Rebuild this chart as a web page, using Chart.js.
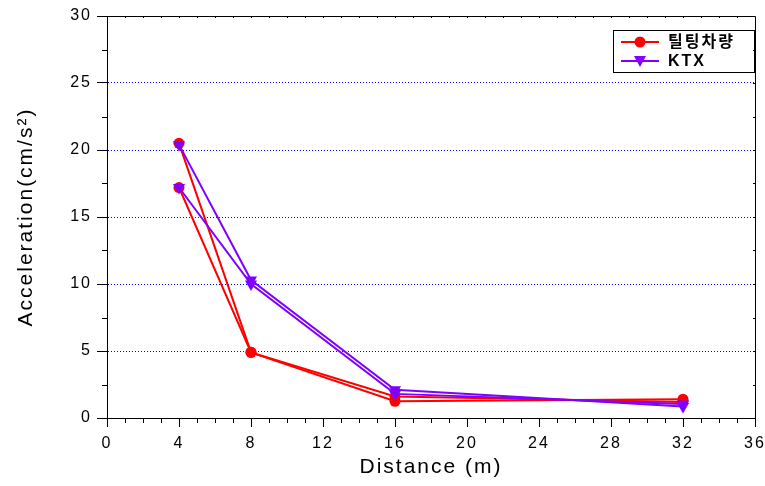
<!DOCTYPE html>
<html>
<head>
    <meta charset="UTF-8">
    <title>Acceleration vs Distance</title>
    <script src="https://cdn.jsdelivr.net/npm/chart.js"></script>
    <style>
        body { margin: 0; background: #fff; }
        canvas { display: block; }
    </style>
</head>
<body>
    <canvas id="accel_chart" width="765" height="486"></canvas>
    <script>
        // 데이터
        var distance = [4, 8, 16, 32];
        var tiltRun1 = [20.5, 4.9, 1.25, 1.4];
        var tiltRun2 = [17.2, 4.9, 1.6, 1.2];
        var ktxRun1 = [20.4, 10.3, 2.1, 0.85];
        var ktxRun2 = [17.2, 10.0, 1.8, 1.05];
        var seriesNames = ['틸팅차량', 'KTX'];
        var xTicks = [0, 4, 8, 12, 16, 20, 24, 28, 32, 36];
        var yTicks = [0, 5, 10, 15, 20, 25, 30];

        var RED = '#ff0000';
        var PURPLE = '#8000ff';
        var FONT = "'Liberation Sans', Arial, 'Noto Sans CJK KR', sans-serif";
        var SPACING = '2px';

        function toPoints(xs, ys) {
            return xs.map(function (x, i) { return { x: x, y: ys[i] }; });
        }

        function lineSet(label, values, color, shape, order) {
            return {
                label: label,
                data: toPoints(distance, values),
                showLine: true,
                borderColor: color,
                backgroundColor: color,
                borderWidth: 2,
                pointStyle: shape,
                pointRadius: shape === 'circle' ? 5.5 : 7,
                pointRotation: shape === 'circle' ? 0 : 180,
                pointBorderWidth: 0,
                order: order
            };
        }

        // 글자 간격 + 보조 눈금 + 테두리 + 범례
        var framePlugin = {
            id: 'frame',
            beforeLayout: function (chart) { chart.ctx.letterSpacing = SPACING; },
            beforeDraw: function (chart) {
                chart.ctx.letterSpacing = SPACING;
                var ctx = chart.ctx;
                ctx.save();
                ctx.fillStyle = '#fff';
                ctx.fillRect(0, 0, chart.width, chart.height);
                ctx.restore();
            },
            afterDraw: function (chart) {
                var ctx = chart.ctx;
                var a = chart.chartArea;
                var xs = chart.scales.x, ys = chart.scales.y;
                ctx.save();
                ctx.strokeStyle = '#000';
                ctx.lineWidth = 1;
                ctx.beginPath();
                // top and right frame
                ctx.moveTo(a.left, a.top + 0.5);
                ctx.lineTo(a.right + 0.5, a.top + 0.5);
                ctx.lineTo(a.right + 0.5, a.bottom);
                // minor ticks on x (every 1) and top inward ticks
                for (var v = 1; v < 36; v++) {
                    var px = Math.round(xs.getPixelForValue(v)) + 0.5;
                    if (v % 4 !== 0) {
                        ctx.moveTo(px, a.bottom);
                        ctx.lineTo(px, a.bottom + 5);
                    }
                    ctx.moveTo(px, a.top);
                    ctx.lineTo(px, a.top + 2);
                }
                // minor ticks on y (every 2.5) and right inward ticks
                for (var w = 2.5; w < 30; w += 2.5) {
                    var py = Math.round(ys.getPixelForValue(w)) + 0.5;
                    if (w % 5 !== 0) {
                        ctx.moveTo(a.left - 5, py);
                        ctx.lineTo(a.left, py);
                    }
                    ctx.moveTo(a.right - 2, py);
                    ctx.lineTo(a.right, py);
                }
                ctx.stroke();

                // 범례
                var bx = a.right - 142, by = a.top + 14, bw = 141, bh = 42;
                ctx.strokeRect(bx + 0.5, by + 0.5, bw, bh);
                var rows = [
                    { name: seriesNames[0], color: RED, shape: 'circle' },
                    { name: seriesNames[1], color: PURPLE, shape: 'triangle' }
                ];
                ctx.font = 'bold 16px ' + FONT;
                ctx.letterSpacing = SPACING;
                ctx.textBaseline = 'middle';
                rows.forEach(function (r, i) {
                    var cy = by + 12 + i * 19;
                    ctx.strokeStyle = r.color;
                    ctx.lineWidth = 2;
                    ctx.beginPath();
                    ctx.moveTo(bx + 8, cy);
                    ctx.lineTo(bx + 46, cy);
                    ctx.stroke();
                    ctx.fillStyle = r.color;
                    ctx.beginPath();
                    if (r.shape === 'circle') {
                        ctx.arc(bx + 27, cy, 5.5, 0, Math.PI * 2);
                    } else {
                        ctx.moveTo(bx + 21, cy - 5);
                        ctx.lineTo(bx + 33, cy - 5);
                        ctx.lineTo(bx + 27, cy + 6);
                        ctx.closePath();
                    }
                    ctx.fill();
                    ctx.fillStyle = '#000';
                    ctx.fillText(r.name, bx + 55, cy + 1);
                });
                ctx.restore();
            }
        };

        var ctx = document.getElementById('accel_chart').getContext('2d');
        var chart = new Chart(ctx, {
            type: 'scatter',
            data: {
                datasets: [
                    lineSet(seriesNames[0], tiltRun1, RED, 'circle', 2),
                    lineSet(seriesNames[0], tiltRun2, RED, 'circle', 2),
                    lineSet(seriesNames[1], ktxRun1, PURPLE, 'triangle', 1),
                    lineSet(seriesNames[1], ktxRun2, PURPLE, 'triangle', 1)
                ]
            },
            options: {
                responsive: false,
                animation: false,
                layout: { padding: { top: 16, right: 10, left: 0, bottom: 0 } },
                plugins: {
                    legend: { display: false },
                    tooltip: { enabled: false }
                },
                scales: {
                    x: {
                        type: 'linear',
                        min: xTicks[0],
                        max: xTicks[xTicks.length - 1],
                        afterBuildTicks: function (s) {
                            s.ticks = xTicks.map(function (v) { return { value: v }; });
                        },
                        afterFit: function (s) {
                            s.height = 68;
                            s.paddingLeft = 0;
                            s.paddingRight = 0;
                        },
                        grid: {
                            drawOnChartArea: false,
                            tickLength: 9,
                            tickColor: '#000'
                        },
                        border: { color: '#000', width: 1 },
                        ticks: {
                            color: '#000',
                            padding: 7,
                            maxRotation: 0,
                            autoSkip: false,
                            font: { family: FONT, size: 16 }
                        },
                        title: {
                            display: true,
                            text: 'Distance (m)',
                            color: '#000',
                            font: { family: FONT, size: 21 },
                            padding: { top: 0, bottom: 6 }
                        }
                    },
                    y: {
                        min: yTicks[0],
                        max: yTicks[yTicks.length - 1],
                        afterBuildTicks: function (s) {
                            s.ticks = yTicks.map(function (v) { return { value: v }; });
                        },
                        afterFit: function (s) {
                            s.width = 107;
                            s.paddingTop = 0;
                            s.paddingBottom = 0;
                        },
                        grid: {
                            color: function (c) {
                                var v = c.tick ? c.tick.value : 0;
                                return (v > 0 && v < 30) ? '#0000ff' : 'rgba(0,0,0,0)';
                            },
                            lineWidth: 1,
                            tickLength: 10,
                            tickColor: '#000'
                        },
                        border: { color: '#000', width: 1, dash: [1, 2] },
                        ticks: {
                            color: '#000',
                            padding: 5,
                            font: { family: FONT, size: 16 }
                        },
                        title: {
                            display: true,
                            text: 'Acceleration(cm/s²)',
                            color: '#000',
                            font: { family: FONT, size: 21 },
                            padding: { top: 14, bottom: 0 }
                        }
                    }
                }
            },
            plugins: [framePlugin]
        });
    </script>
</body>
</html>
